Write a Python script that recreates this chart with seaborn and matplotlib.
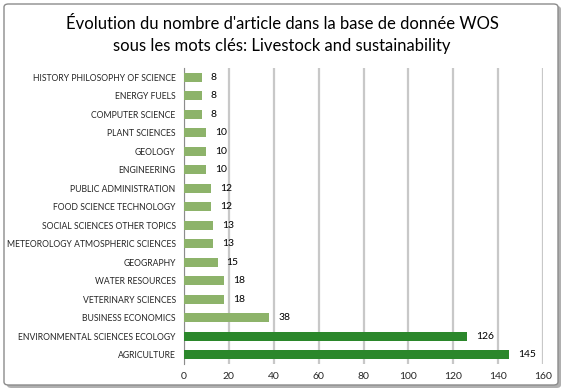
import matplotlib
matplotlib.use("Agg")
import matplotlib.pyplot as plt
import seaborn as sns
import pandas as pd
import numpy as np
from matplotlib.patches import FancyBboxPatch

# Data
categories = [
    "HISTORY PHILOSOPHY OF SCIENCE", "ENERGY FUELS", "COMPUTER SCIENCE",
    "PLANT SCIENCES", "GEOLOGY", "ENGINEERING", "PUBLIC ADMINISTRATION",
    "FOOD SCIENCE TECHNOLOGY", "SOCIAL SCIENCES OTHER TOPICS",
    "METEOROLOGY ATMOSPHERIC SCIENCES", "GEOGRAPHY", "WATER RESOURCES",
    "VETERINARY SCIENCES", "BUSINESS ECONOMICS",
    "ENVIRONMENTAL SCIENCES ECOLOGY", "AGRICULTURE",
]
counts = [8, 8, 8, 10, 10, 10, 12, 12, 13, 13, 15, 18, 18, 38, 126, 145]
highlight = ["ENVIRONMENTAL SCIENCES ECOLOGY", "AGRICULTURE"]
x_ticks = [0, 20, 40, 60, 80, 100, 120, 140, 160]
title = ("Évolution du nombre d'article dans la base de donnée WOS\n"
         "sous les mots clés: Livestock and sustainability")

df = pd.DataFrame({"category": categories, "count": counts})

sns.set_theme(style="white")
plt.rcParams["font.family"] = ["Lato", "DejaVu Sans"]

LIGHT = "#8dbf5e"
DARK = "#1c961c"
palette = {c: (DARK if c in highlight else LIGHT) for c in categories}

fig = plt.figure(figsize=(5.65, 3.91), dpi=100)
fig.patch.set_facecolor("white")

# Frame around the chart, Excel style
shadow = FancyBboxPatch((7 / 565, 3 / 391), 554 / 565, 382 / 391,
                        boxstyle="round,pad=0,rounding_size=0.008",
                        transform=fig.transFigure, facecolor="#b0b0b0",
                        edgecolor="none", zorder=-2)
frame = FancyBboxPatch((4 / 565, 6 / 391), 554 / 565, 381 / 391,
                       boxstyle="round,pad=0,rounding_size=0.008",
                       transform=fig.transFigure, facecolor="white",
                       edgecolor="#8c8c8c", linewidth=1.0, zorder=-1)
fig.patches.extend([shadow, frame])

ax = fig.add_axes([184 / 565, 27 / 391, 359 / 565, 296 / 391])
ax.set_facecolor("none")
ax.set_zorder(2)

sns.barplot(data=df, x="count", y="category", hue="category",
            palette=palette, order=categories, legend=False,
            width=0.5, edgecolor="none", ax=ax, zorder=3)

# value labels
for i, v in enumerate(counts):
    ax.text(v + 4, i, str(v), va="center", ha="left", fontsize=7.5,
            color="black", zorder=4)

ax.set_xlim(0, 160)
ax.set_xticks(x_ticks)
ax.set_xticklabels([str(t) for t in x_ticks], fontsize=7.5)
ax.set_ylim(len(categories) - 0.5, -0.5)
ax.set_yticks(range(len(categories)))
ax.set_yticklabels(categories, fontsize=6.25)
ax.set_yticks(np.arange(-0.5, len(categories), 1.0), minor=True)
ax.tick_params(axis="y", which="major", length=0, pad=6)
ax.tick_params(axis="y", which="minor", length=4, color="#8c8c8c", width=0.8)
ax.tick_params(axis="x", length=0, pad=6)

ax.xaxis.grid(True, color="#c8c8c8", linewidth=1.6, zorder=0)
ax.set_axisbelow(True)
for side in ["top", "right", "bottom"]:
    ax.spines[side].set_visible(False)
ax.spines["left"].set_color("#8c8c8c")
ax.spines["left"].set_linewidth(0.8)
ax.set_xlabel("")
ax.set_ylabel("")

fig.text(282 / 565, 1 - 35 / 391, title, ha="center", va="center",
         fontsize=12, linespacing=1.42, color="black")

plt.savefig("out.png", dpi=100)
plt.close()
